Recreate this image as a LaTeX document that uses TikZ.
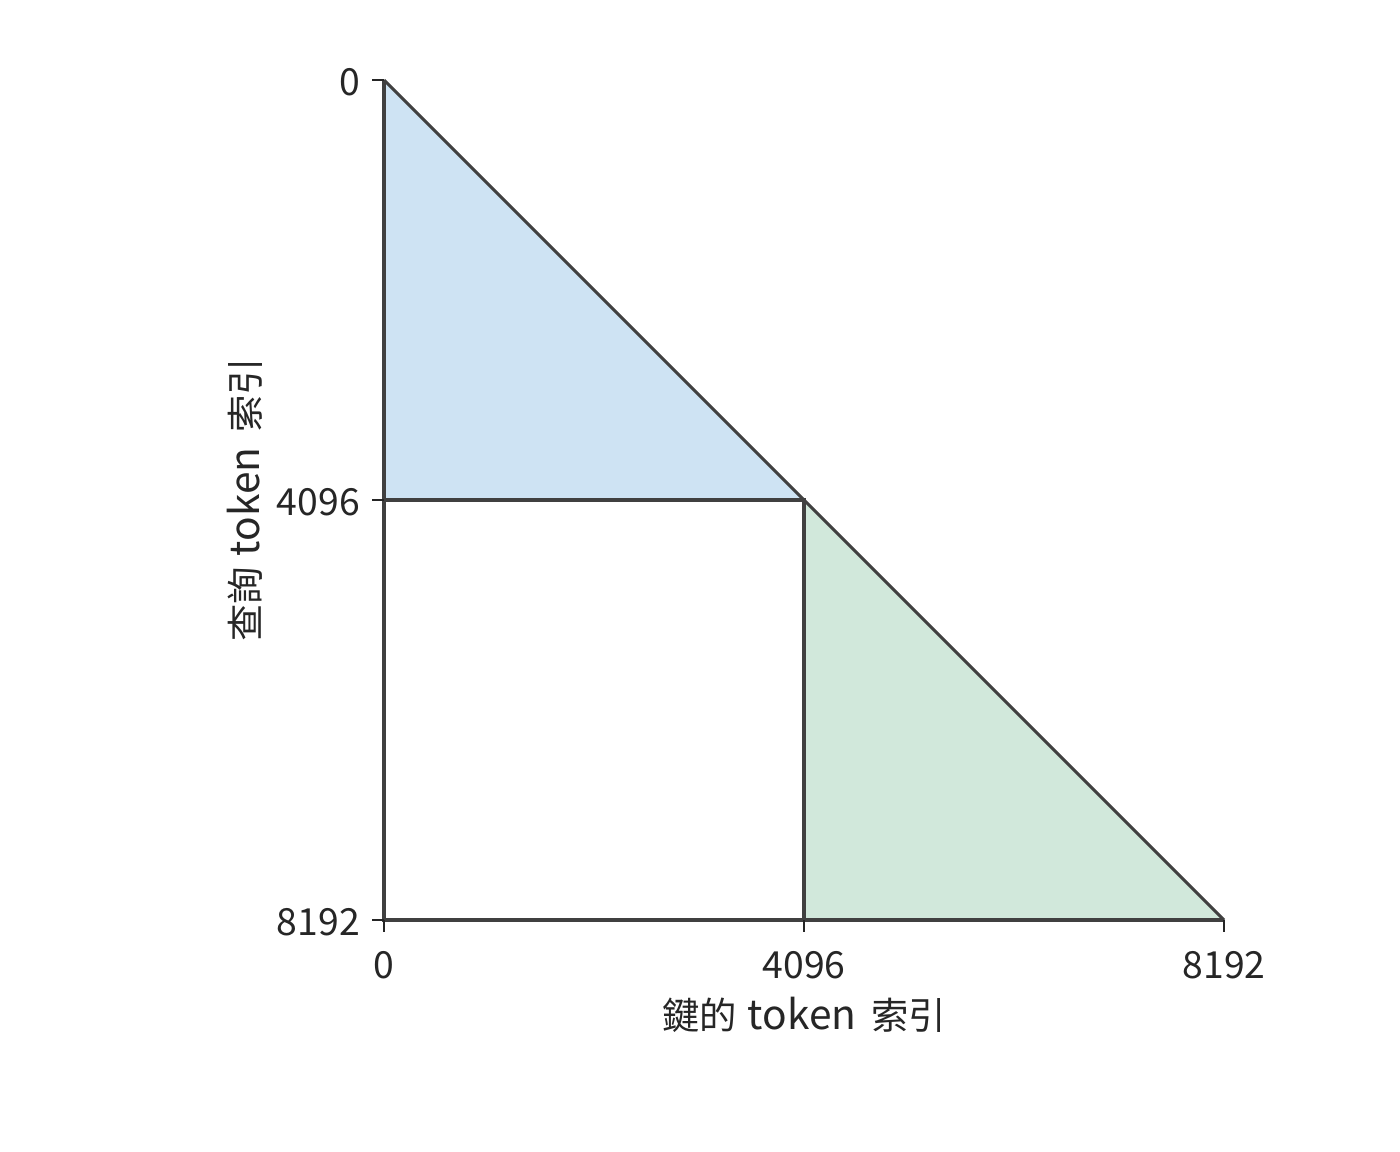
\documentclass[tikz,border=0pt]{standalone}
\usepackage{fontspec}
\setmainfont{Noto Sans CJK TC}
\definecolor{linegray}{HTML}{404040}
\definecolor{tickgray}{HTML}{262626}
\definecolor{blueface}{HTML}{CEE3F3}
\definecolor{greenface}{HTML}{D1E8DB}
\definecolor{textgray}{HTML}{262626}
\newcommand{\tokword}{{\fontsize{30.5pt}{33pt}\selectfont token}}
\begin{document}
\begin{tikzpicture}[x=0.75pt,y=-0.75pt,
  edge/.style={draw=linegray,line width=2.3pt,line join=miter},
  tickline/.style={draw=tickgray,line width=1.5pt},
  lbl/.style={font=\fontsize{28pt}{33pt}\selectfont,text=textgray,inner sep=0pt}]
\useasboundingbox (0,0) rectangle (1400,1152);
\fill[white] (0,0) rectangle (1400,1152);
% corner points
\coordinate (O) at (384,80);
\coordinate (M) at (804,500);
\coordinate (LM) at (384,500);
\coordinate (BM) at (804,920);
\coordinate (BL) at (384,920);
\coordinate (BR) at (1224,920);
% fills
\fill[blueface] (O) -- (M) -- (LM) -- cycle;
\fill[greenface] (M) -- (BR) -- (BM) -- cycle;
% lines
\draw[edge] (LM) -- (M) -- (BM);
\draw[edge] (O) -- (BL) -- (BR);
\draw[edge] (O) -- (BR);
% ticks
\coordinate (tO) at (372,80);
\coordinate (tLM) at (372,500);
\coordinate (tBL) at (372,920);
\coordinate (tX0) at (384,932);
\coordinate (tXM) at (804,932);
\coordinate (tXR) at (1224,932);
\draw[tickline] (tO) -- (O);
\draw[tickline] (tLM) -- (LM);
\draw[tickline] (tBL) -- (BL);
\draw[tickline] (BL) -- (tX0);
\draw[tickline] (BM) -- (tXM);
\draw[tickline] (BR) -- (tXR);
% y labels
\node[lbl,anchor=east] (y0) at (360,82) {0};
\node[lbl,anchor=east] (y1) at (360,502) {4096};
\node[lbl,anchor=east] (y2) at (360,922) {8192};
% x labels
\node[lbl] (x0) at (384,965) {0};
\node[lbl] (x1) at (804,965) {4096};
\node[lbl] (x2) at (1224,965) {8192};
% axis titles
\node[lbl] (xt) at (804,1015) {鍵的\hspace{0.3em}\tokword\hspace{0.4em}索引};
\node[lbl,rotate=90] (yt) at (245,500) {查詢\hspace{0.3em}\tokword\hspace{0.4em}索引};
\end{tikzpicture}
\end{document}
